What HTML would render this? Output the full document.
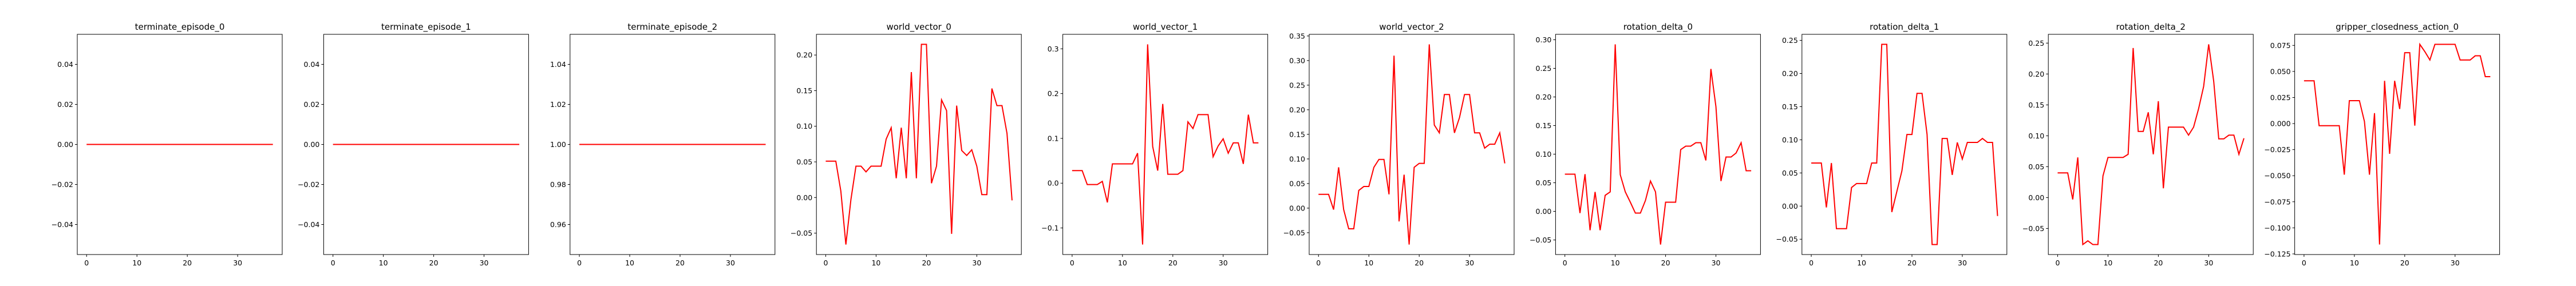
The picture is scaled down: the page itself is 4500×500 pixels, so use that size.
<!DOCTYPE html>
<html><head><meta charset="utf-8">
<style>
html,body{margin:0;padding:0;background:#fff;}
svg{display:block;}
text{font-family:"DejaVu Sans","Liberation Sans",sans-serif;fill:#000;}
</style></head>
<body>
<svg id="fig" width="4500" height="500" viewBox="0 0 4500 500" xmlns="http://www.w3.org/2000/svg"></svg>
<script>
const titles = ["terminate_episode_0","terminate_episode_1","terminate_episode_2","world_vector_0","world_vector_1","world_vector_2","rotation_delta_0","rotation_delta_1","rotation_delta_2","gripper_closedness_action_0"];
const terminate0 = Array(38).fill(0);
const terminate1 = Array(38).fill(0);
const terminate2 = Array(38).fill(1);
const worldVector0 = [0.051,0.051,0.051,0.009,-0.066,-0.003,0.044,0.044,0.036,0.044,0.044,0.044,0.082,0.098,0.027,0.098,0.027,0.176,0.027,0.215,0.215,0.020,0.044,0.137,0.122,-0.051,0.129,0.066,0.059,0.067,0.044,0.004,0.004,0.153,0.129,0.129,0.090,-0.004];
const worldVector1 = [0.028,0.028,0.028,-0.003,-0.003,-0.003,0.004,-0.043,0.043,0.043,0.043,0.043,0.043,0.067,-0.137,0.310,0.082,0.028,0.177,0.020,0.020,0.020,0.028,0.137,0.122,0.153,0.153,0.153,0.059,0.083,0.099,0.067,0.090,0.090,0.043,0.153,0.090,0.090];
const worldVector2 = [0.028,0.028,0.028,-0.003,0.083,-0.003,-0.042,-0.042,0.036,0.044,0.044,0.083,0.099,0.099,0.028,0.310,-0.027,0.068,-0.074,0.083,0.091,0.091,0.333,0.169,0.153,0.231,0.231,0.153,0.184,0.231,0.231,0.153,0.153,0.122,0.130,0.130,0.153,0.091];
const rotationDelta0 = [0.065,0.065,0.065,-0.003,0.065,-0.033,0.034,-0.033,0.028,0.034,0.292,0.064,0.034,0.016,-0.003,-0.003,0.019,0.053,0.034,-0.058,0.016,0.016,0.016,0.108,0.114,0.114,0.120,0.120,0.089,0.249,0.183,0.053,0.095,0.095,0.102,0.120,0.071,0.071];
const rotationDelta1 = [0.065,0.065,0.065,-0.002,0.065,-0.034,-0.034,-0.034,0.028,0.034,0.034,0.034,0.065,0.065,0.244,0.244,-0.009,0.022,0.053,0.108,0.108,0.170,0.170,0.108,-0.058,-0.058,0.102,0.102,0.047,0.096,0.071,0.096,0.096,0.096,0.102,0.096,0.096,-0.015];
const rotationDelta2 = [0.040,0.040,0.040,-0.003,0.065,-0.076,-0.070,-0.076,-0.076,0.035,0.065,0.065,0.065,0.065,0.070,0.242,0.107,0.107,0.138,0.070,0.156,0.015,0.114,0.114,0.114,0.114,0.101,0.114,0.144,0.180,0.248,0.188,0.095,0.095,0.101,0.101,0.070,0.096];
const gripper0 = [0.041,0.041,0.041,-0.002,-0.002,-0.002,-0.002,-0.002,-0.049,0.022,0.022,0.022,0.002,-0.049,0.010,-0.116,0.041,-0.029,0.041,0.014,0.068,0.068,-0.002,0.076,0.069,0.061,0.076,0.076,0.076,0.076,0.076,0.061,0.061,0.061,0.065,0.065,0.045,0.045];
const xTicks = [0,10,20,30];
const series = [terminate0,terminate1,terminate2,worldVector0,worldVector1,worldVector2,rotationDelta0,rotationDelta1,rotationDelta2,gripper0];

const NS="http://www.w3.org/2000/svg";
const svg=document.getElementById('fig');
function mk(tag,attrs,parent){const e=document.createElementNS(NS,tag);for(const k in attrs)e.setAttribute(k,attrs[k]);(parent||svg).appendChild(e);return e;}

const AX_TOP=60, AX_BOT=445, AX_W=358, LEFT0=135, PITCH=430.4;

function niceStep(range){
  const mags=[1,2,2.5,5,10];
  let p=Math.pow(10,Math.floor(Math.log10(range))-2);
  for(let k=0;k<6;k++){for(const m of mags){const s=m*p;if(range/s<=9)return s;}p*=10;}
  return range;
}

series.forEach((data,i)=>{
  const g=mk('g',{});
  
  
  const L=LEFT0+i*PITCH, R=L+AX_W;
  const n=data.length;
  const xmin=-(n-1)*0.05, xmax=(n-1)*1.05;
  let dmin=Math.min(...data), dmax=Math.max(...data);
  let ymin,ymax;
  if(dmax-dmin<1e-12){ymin=dmin-0.055;ymax=dmax+0.055;}
  else{const m=(dmax-dmin)*0.05;ymin=dmin-m;ymax=dmax+m;}
  const xs=v=>L+(v-xmin)/(xmax-xmin)*AX_W;
  const ys=v=>AX_BOT-(v-ymin)/(ymax-ymin)*(AX_BOT-AX_TOP);
  const t=mk('text',{x:(L+R)/2,y:52,'text-anchor':'middle','font-size':15},g);
  t.textContent=titles[i];
  
  
  const step=niceStep(ymax-ymin);
  let decimals=Math.max(0,Math.ceil(-Math.log10(step)-1e-9));
  if(Math.abs(step-0.025)<1e-9)decimals=3;
  for(let v=Math.ceil(ymin/step-1e-6)*step; v<=ymax+1e-6; v+=step){
    const y=ys(v);
    mk('line',{x1:L-4,x2:L,y1:y,y2:y,stroke:'#000','stroke-width':1},g);
    const lab=mk('text',{x:L-7,y:y+4.5,'text-anchor':'end','font-size':12.5},g);
    let s=(Math.abs(v)<1e-12?0:v).toFixed(decimals);
    lab.textContent=s.replace('-','\u2212');
    
    
  }
  xTicks.forEach(v=>{
    const x=xs(v);
    mk('line',{x1:x,x2:x,y1:AX_BOT,y2:AX_BOT+4,stroke:'#000','stroke-width':1},g);
    const lab=mk('text',{x:x,y:AX_BOT+19,'text-anchor':'middle','font-size':12.5},g);
    lab.textContent=String(v);
    
    
  });
  const pts=data.map((v,k)=>xs(k).toFixed(2)+','+ys(v).toFixed(2)).join(' ');
  const line=mk('polyline',{points:pts,fill:'none',stroke:'#ff0000','stroke-width':2,'stroke-linejoin':'miter'},g);
  
  
  const frame=mk('rect',{x:L,y:AX_TOP,width:AX_W,height:AX_BOT-AX_TOP,fill:'none',stroke:'#000','stroke-width':1},g);
  
  
});
</script>
</body></html>
